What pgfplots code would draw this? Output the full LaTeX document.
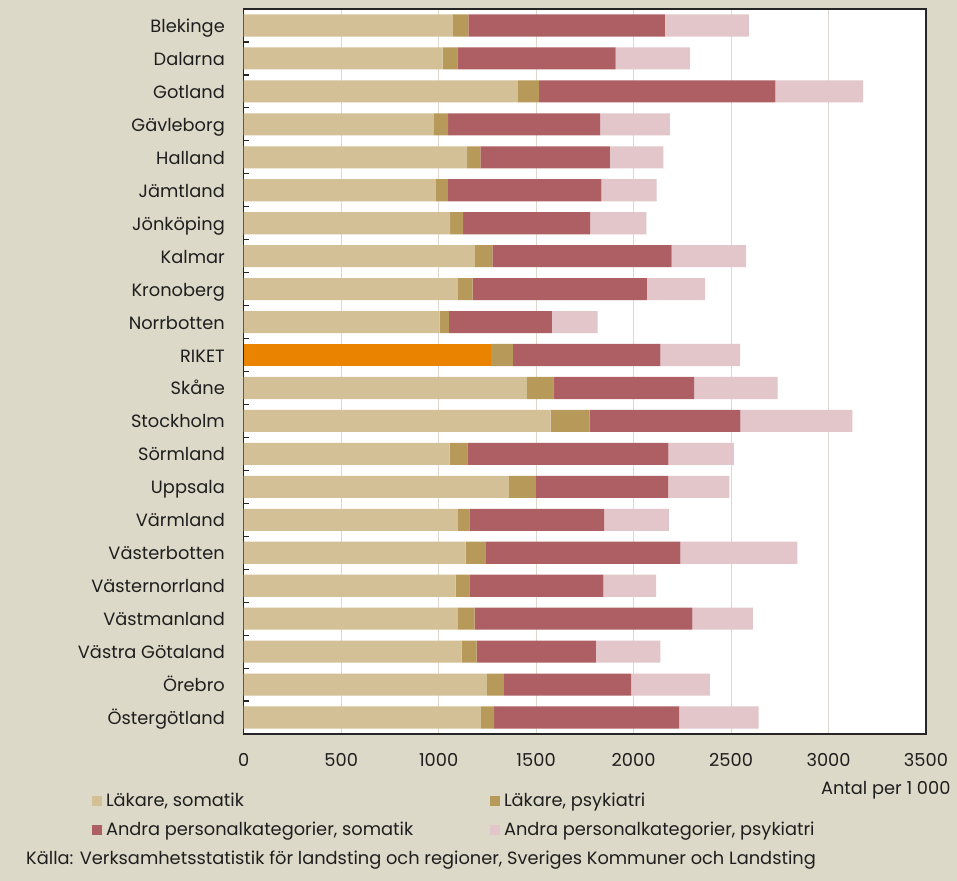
\documentclass[border=0pt]{standalone}
\usepackage{pgfplots}
\pgfplotsset{compat=1.18}
\usepackage{pgfplotstable}
\usepackage{fontspec}
\setmainfont{Poppins}
\definecolor{bg}{RGB}{221,217,200}
\definecolor{cls}{RGB}{212,192,150}
\definecolor{clp}{RGB}{183,154,90}
\definecolor{cas}{RGB}{173,95,100}
\definecolor{cap}{RGB}{227,198,201}
\definecolor{crk}{RGB}{233,131,0}
\definecolor{gridc}{RGB}{220,216,206}
\definecolor{txt}{RGB}{30,30,30}

\pgfplotstableread{
idx ls rk lp as ap
0 1073 0 80 1007 431
1 1021 0 75 812 381
2 1407 0 108 1212 450
3 976 0 73 779 358
4 1146 0 68 664 275
5 986 0 61 788 283
6 1059 0 66 652 289
7 1186 0 89 920 382
8 1099 0 75 894 299
9 1005 0 47 529 235
10 0 1268 113 756 409
11 1452 0 136 723 428
12 1574 0 200 774 574
13 1056 0 92 1031 336
14 1360 0 139 678 315
15 1099 0 59 691 332
16 1139 0 103 998 600
17 1087 0 71 687 270
18 1099 0 85 1117 311
19 1118 0 77 612 330
20 1247 0 87 654 403
21 1217 0 68 948 409
}\data

\pgfplotsset{sq/.style={legend image code/.code={\fill[##1] (0bp,-3.5bp) rectangle (10bp,6.5bp); \path (14bp,0bp);}}}
\newcommand{\fs}{\fontsize{17.8bp}{21bp}\selectfont}

\begin{document}
\begin{tikzpicture}[font=\fs, text=txt]
\fill[bg] (-243.7bp,-147bp) rectangle (713.3bp,734bp);
\begin{axis}[
  at={(0,0)}, anchor=south west, scale only axis,
  width=682.3bp, height=725bp,
  xbar stacked, bar width=0.67,
  xmin=0, xmax=3500, ymin=-0.5, ymax=21.5, y dir=reverse,
  xtick={0,500,...,3500}, ytick={0,...,21},
  yticklabels={Blekinge,Dalarna,Gotland,Gävleborg,Halland,Jämtland,Jönköping,Kalmar,Kronoberg,Norrbotten,RIKET,Skåne,Stockholm,Sörmland,Uppsala,Värmland,Västerbotten,Västernorrland,Västmanland,Västra Götaland,Örebro,Östergötland},
  minor ytick={-0.5,0.5,...,21.5},
  major tick length=0pt, minor tick length=5bp, tick align=inside,
  minor tick style={black!85, line width=1.2bp},
  xtick pos=bottom, ytick pos=left,
  xmajorgrids, major grid style={gridc, line width=1bp},
  axis line style={black!85, line width=1.2bp},
  axis background/.style={fill=white},
  /pgf/number format/assume math mode=true,
  /pgf/number format/1000 sep={},
  ticklabel style={font=\fs, text=txt},
  xticklabel style={anchor=base, yshift=-32.5bp},
  yticklabel style={anchor=base east, inner sep=0pt, xshift=-18.7bp, yshift=-7bp},
  legend columns=2,
  legend style={draw=none, fill=none, at={(-0.2223,-0.0837)}, anchor=north west,
    inner sep=0pt, outer sep=0pt, row sep=13bp, column sep=0pt,
    nodes={inner sep=0pt, text height=12bp, text depth=4bp, font=\fs, text=txt}},
  legend cell align=left,
]
\addplot[fill=cls, draw=none, sq] table[x=ls, y=idx] {\data};
\addlegendentry{\makebox[384bp][l]{Läkare, somatik}}
\addplot[fill=crk, draw=none, forget plot] table[x=rk, y=idx] {\data};
\addplot[fill=clp, draw=none, sq] table[x=lp, y=idx] {\data};
\addlegendentry{Läkare, psykiatri}
\addplot[fill=cas, draw=none, sq] table[x=as, y=idx] {\data};
\addlegendentry{\makebox[384bp][l]{Andra personalkategorier, somatik}}
\addplot[fill=cap, draw=none, sq] table[x=ap, y=idx] {\data};
\addlegendentry{Andra personalkategorier, psykiatri}
\end{axis}
\node[anchor=base east, inner sep=0pt] at (707bp,-60.3bp) {Antal per 1 000};
\node[anchor=base west, inner sep=0pt] at (-217.7bp,-130.3bp) {Källa: Verksamhetsstatistik för landsting och regioner, Sveriges Kommuner och Landsting};
\end{tikzpicture}
\end{document}
